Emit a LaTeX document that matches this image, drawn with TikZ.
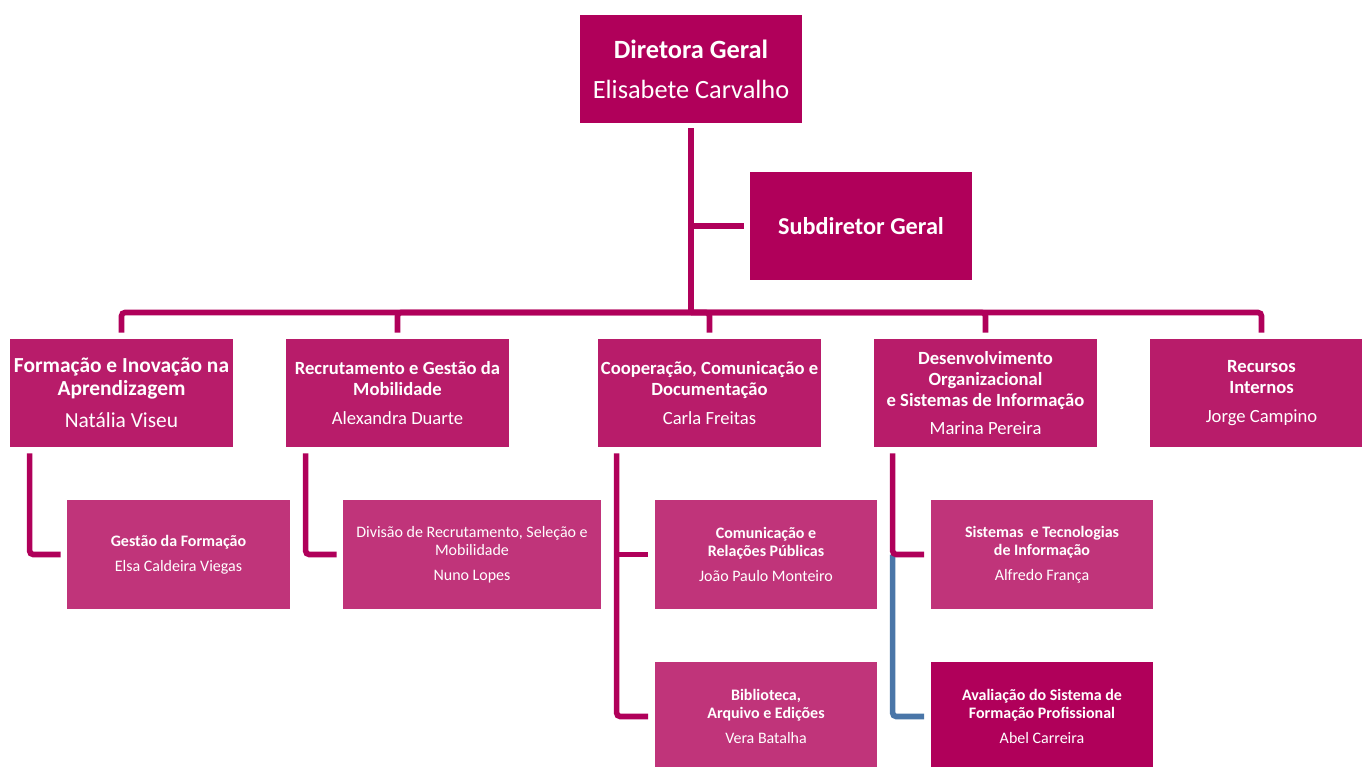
\documentclass[tikz,border=0pt]{standalone}
\usepackage{fontspec}
\setmainfont{Carlito}
\usepackage{xcolor}
\usepackage{tikz}
\usetikzlibrary{calc}

\definecolor{topmag}{RGB}{176,0,90}
\definecolor{unitmag}{RGB}{184,28,106}
\definecolor{submag}{RGB}{192,52,122}
\definecolor{linkblue}{RGB}{74,118,168}

\begin{document}
\begin{tikzpicture}[x=0.02cm,y=-0.02cm,
    topbox/.style={fill=topmag,text=white,align=center,inner sep=0pt,
      minimum width=4.44cm,minimum height=2.16cm},
    unitbox/.style={fill=unitmag,text=white,align=center,inner sep=0pt,
      minimum width=4.46cm,minimum height=2.16cm,font=\fontsize{10.6}{12}\selectfont},
    subbox/.style={fill=submag,text=white,align=center,inner sep=0pt,
      minimum width=4.46cm,minimum height=2.18cm,font=\fontsize{9.1}{10.1}\selectfont},
    link/.style={draw=topmag,line width=3.2pt,rounded corners=2pt},
    bluelink/.style={draw=linkblue,line width=3.2pt,rounded corners=2pt}]
      \useasboundingbox (0,0) rectangle (1362,767);

      % Top
      \node[topbox,font=\fontsize{15}{22.7}\selectfont] (dir) at (691,69)
        {\textbf{Diretora Geral}\\Elisabete Carvalho};
      \node[topbox,font=\fontsize{13.8}{15}\selectfont] (subdir) at (861,226)
        {\textbf{Subdiretor Geral}};

      % Units
      \node[unitbox,font=\fontsize{12.2}{13.2}\selectfont] (fia) at (121.5,393)
        {\textbf{Formação e Inovação na}\\\textbf{Aprendizagem}\\[5pt]Natália Viseu};
      \node[unitbox] (rgm) at (397.5,393)
        {\textbf{Recrutamento e Gestão da}\\\textbf{Mobilidade}\\[4.4pt]Alexandra Duarte};
      \node[unitbox] (ccd) at (709.5,393)
        {\textbf{Cooperação, Comunicação e}\\\textbf{Documentação}\\[4.4pt]Carla Freitas};
      \node[unitbox] (dosi) at (985.5,393)
        {\textbf{Desenvolvimento}\\\textbf{Organizacional}\\\textbf{e Sistemas de Informação}\\[4pt]Marina Pereira};
      \node[unitbox] (ri) at (1261.5,393)
        {\textbf{Recursos}\\\textbf{Internos}\\[4.4pt]Jorge Campino};

      % Divisions
      \node[subbox] (gf) at (178.5,554.5)
        {\textbf{Gestão da Formação}\\[4pt]Elsa Caldeira Viegas};
      \node[subbox,minimum width=5.16cm] (drsm) at (472,554.5)
        {Divisão de Recrutamento, Seleção e\\Mobilidade\\[4pt]Nuno Lopes};
      \node[subbox] (crp) at (766,554.5)
        {\textbf{Comunicação e}\\\textbf{Relações Públicas}\\[4pt]João Paulo Monteiro};
      \node[subbox] (sti) at (1042,554.5)
        {\textbf{Sistemas\ \ e Tecnologias}\\\textbf{de Informação}\\[4pt]Alfredo França};
      \node[subbox] (bae) at (766,716.5)
        {\textbf{Biblioteca,}\\\textbf{Arquivo e Edições}\\[4pt]Vera Batalha};
      \node[subbox,fill=topmag] (asfp) at (1042,716.5)
        {\textbf{Avaliação do Sistema de}\\\textbf{Formação Profissional}\\[4pt]Abel Carreira};

      % Connectors
      \coordinate (bus) at (691,312.5);
      \draw[link] ([yshift=-0.1cm]dir.south) -- (bus);
      \draw[link] (dir.south |- subdir.west) -- ([xshift=-0.12cm]subdir.west);
      \foreach \u in {fia,rgm,ccd,dosi,ri}
        \draw[link] (bus) -| ([yshift=0.12cm]\u.north);

      \draw[link] ([xshift=0.4cm,yshift=-0.12cm]fia.south west) |- ([xshift=-0.12cm]gf.west);
      \draw[link] ([xshift=0.4cm,yshift=-0.12cm]rgm.south west) |- ([xshift=-0.12cm]drsm.west);

      \coordinate (ccdx) at ([xshift=0.38cm,yshift=-0.12cm]ccd.south west);
      \draw[link] (ccdx) |- ([xshift=-0.12cm]bae.west);
      \draw[link] (ccdx |- crp.west) -- ([xshift=-0.12cm]crp.west);

      \coordinate (dosix) at ([xshift=0.38cm,yshift=-0.12cm]dosi.south west);
      \draw[bluelink] (dosix |- sti.west) |- ([xshift=-0.12cm]asfp.west);
      \draw[link] (dosix) |- ([xshift=-0.12cm]sti.west);
    \end{tikzpicture}
\end{document}
